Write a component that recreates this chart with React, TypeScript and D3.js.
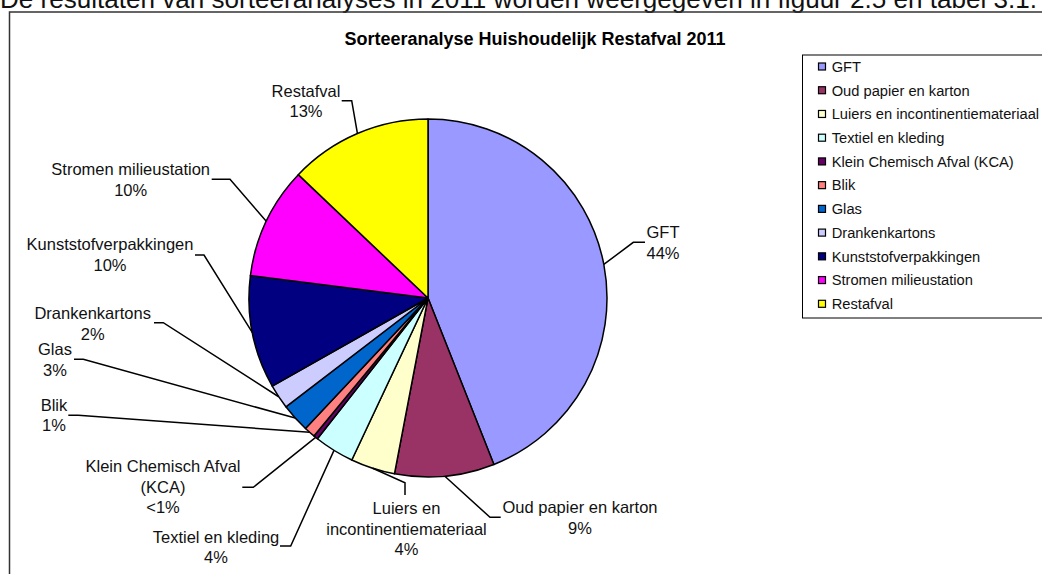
import * as d3 from "d3";

const categories = [
  "GFT",
  "Oud papier en karton",
  "Luiers en incontinentiemateriaal",
  "Textiel en kleding",
  "Klein Chemisch Afval (KCA)",
  "Blik",
  "Glas",
  "Drankenkartons",
  "Kunststofverpakkingen",
  "Stromen milieustation",
  "Restafval",
];
// shares in percent
const shares = [44.0, 9.0, 4.0, 3.6, 0.4, 1.0, 2.6, 2.2, 10.2, 10.1, 12.9];
const pctLabels = ["44%", "9%", "4%", "4%", "<1%", "1%", "3%", "2%", "10%", "10%", "13%"];
// how the data labels wrap on the chart
const labelNames = [
  ["GFT"],
  ["Oud papier en karton"],
  ["Luiers en", "incontinentiemateriaal"],
  ["Textiel en kleding"],
  ["Klein Chemisch Afval", "(KCA)"],
  ["Blik"],
  ["Glas"],
  ["Drankenkartons"],
  ["Kunststofverpakkingen"],
  ["Stromen milieustation"],
  ["Restafval"],
];
const colors = [
  "#9999FF", "#993366", "#FFFFCC", "#CCFFFF", "#660066", "#FF8080",
  "#0066CC", "#CCCCFF", "#000080", "#FF00FF", "#FFFF00",
];
const title = "Sorteeranalyse Huishoudelijk Restafval 2011";
const intro = "De resultaten van sorteeranalyses in 2011 worden weergegeven in figuur 2.5 en tabel 3.1.";

// label placement (text centre, first baseline, leader end + elbow)
const labelLayout: { x: number; y: number; end: [number, number]; elbow: [number, number] }[] = [
  { x: 663, y: 238.3, end: [645, 242.3], elbow: [633.3, 242.3] },
  { x: 580, y: 513.3, end: [500.7, 517.3], elbow: [490, 517.3] },
  { x: 406.5, y: 514, end: [405, 495], elbow: [405, 482.7] },
  { x: 216, y: 542.7, end: [280, 546], elbow: [290.7, 546] },
  { x: 163, y: 472, end: [242.3, 487.3], elbow: [253.3, 487.3] },
  { x: 54, y: 410.7, end: [68.3, 415.3], elbow: [78.3, 415.3] },
  { x: 55, y: 355, end: [74, 359.3], elbow: [83.3, 359.3] },
  { x: 92.7, y: 319, end: [154, 322.7], elbow: [163.3, 322.7] },
  { x: 110, y: 250, end: [195, 255], elbow: [204, 255] },
  { x: 130.7, y: 175.3, end: [211.7, 179.3], elbow: [230, 179.3] },
  { x: 306, y: 96.7, end: [341.7, 100.7], elbow: [351.7, 100.7] },
];

const W = 1042;
const H = 574;
const cx = 428;
const cy = 298;
const R = 179;
const font = "'Liberation Sans', Arial, Helvetica, sans-serif";

export default function App() {
  const pie = d3.pie<number>().sort(null).value((d) => d);
  const arcs = pie(shares);
  const arc = d3.arc<d3.PieArcDatum<number>>().innerRadius(0).outerRadius(R);
  const rim = d3.arc<d3.PieArcDatum<number>>().innerRadius(R).outerRadius(R);
  const line = d3.line();

  const lineH = 20.7;
  const legendTop = 66.5;
  const legendStep = 23.73;

  return (
    <svg
      width={W}
      height={H}
      viewBox={`0 0 ${W} ${H}`}
      style={{ position: "absolute", left: 0, top: 0, background: "#fff", fontFamily: font }}
    >
      {/* cut-off sentence from the page above the figure */}
      <text x={0} y={7.5} fontSize={25.5} fill="#111" textLength={1037} lengthAdjust="spacingAndGlyphs">
        {intro}
      </text>

      {/* chart frame */}
      <rect x={9.5} y={12} width={1100} height={700} fill="none" stroke="#333" strokeWidth={1.5} />

      <text x={535} y={45} textAnchor="middle" fontSize={18} fontWeight="bold" fill="#000">
        {title}
      </text>

      <g transform={`translate(${cx},${cy})`}>
        {arcs.map((a, i) => (
          <path key={i} d={arc(a) ?? ""} fill={colors[i]} stroke="#000" strokeWidth={1.5} strokeLinejoin="round" />
        ))}
      </g>

      {/* leader lines */}
      <g fill="none" stroke="#000" strokeWidth={1.5}>
        {arcs.map((a, i) => {
          const [px, py] = rim.centroid(a);
          const l = labelLayout[i];
          return <path key={i} d={line([l.end, l.elbow, [cx + px, cy + py]]) ?? ""} />;
        })}
      </g>

      {/* data labels */}
      <g fontSize={16.5} fill="#111" textAnchor="middle">
        {labelLayout.map((l, i) => {
          const lines = [...labelNames[i], pctLabels[i]];
          return (
            <text key={i} x={l.x} y={l.y}>
              {lines.map((t, j) => (
                <tspan key={j} x={l.x} y={l.y + j * lineH}>
                  {t}
                </tspan>
              ))}
            </text>
          );
        })}
      </g>

      {/* legend */}
      <rect x={802.5} y={55} width={260} height={263} fill="#fff" stroke="#000" strokeWidth={1} />
      <g fontSize={14.7} fill="#111">
        {categories.map((c, i) => {
          const yc = legendTop + i * legendStep;
          return (
            <g key={c}>
              <rect x={818.5} y={yc - 3.5} width={7} height={7} fill={colors[i]} stroke="#000" strokeWidth={1.2} />
              <text x={831.7} y={yc + 5.3}>
                {c}
              </text>
            </g>
          );
        })}
      </g>
    </svg>
  );
}
